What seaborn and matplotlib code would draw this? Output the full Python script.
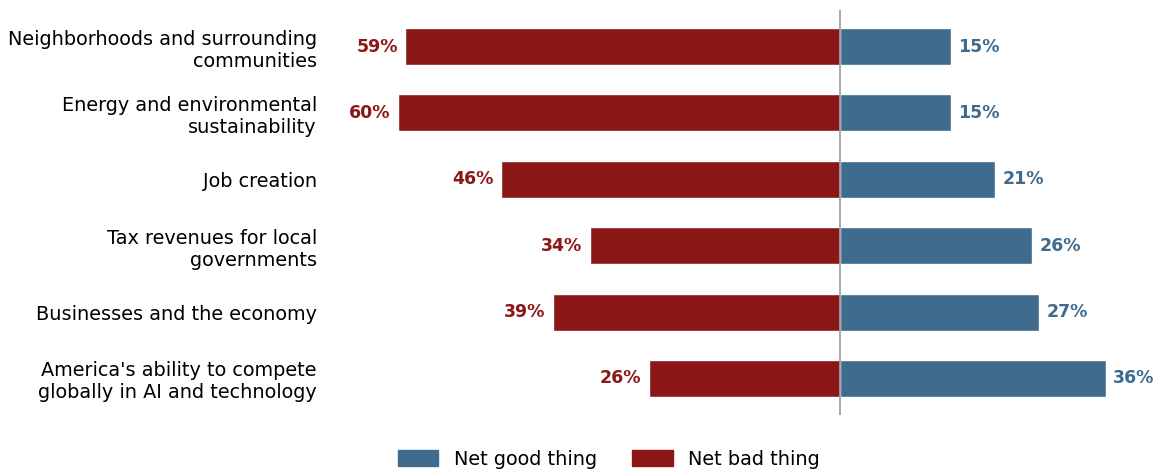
import matplotlib
matplotlib.use("Agg")
import matplotlib.pyplot as plt
import matplotlib.patches as mpatches
import pandas as pd
import seaborn as sns

categories = [
    "Neighborhoods and surrounding\ncommunities",
    "Energy and environmental\nsustainability",
    "Job creation",
    "Tax revenues for local\ngovernments",
    "Businesses and the economy",
    "America's ability to compete\nglobally in AI and technology",
]
net_good = [15, 15, 21, 26, 27, 36]
net_bad = [59, 60, 46, 34, 39, 26]

GOOD = "#3f6b8f"
BAD = "#8b1717"

sns.set_theme(style="white")
plt.rcParams["font.family"] = ["DejaVu Sans"]
plt.rcParams["text.color"] = "black"

df = pd.DataFrame({"category": categories, "good": net_good,
                   "bad": [-v for v in net_bad]})

fig = plt.figure(figsize=(11.62, 4.72), dpi=100)
ax = fig.add_axes([328 / 1162, 57 / 472, (1170 - 328) / 1162, 405 / 472])

sns.barplot(data=df, x="bad", y="category", color=BAD, width=0.56,
            saturation=1, ax=ax, orient="h")
sns.barplot(data=df, x="good", y="category", color=GOOD, width=0.56,
            saturation=1, ax=ax, orient="h")

ax.axvline(0, color="#999999", lw=1.2)
ax.set_xlim(-69.5, 44.7)
ax.set_ylim(5.55, -0.55)
ax.set_xlabel("")
ax.set_ylabel("")
ax.set_xticks([])
ax.tick_params(axis="y", length=0, pad=8, labelsize=13.9, labelcolor="black")
for lab in ax.get_yticklabels():
    lab.set_horizontalalignment("right")
sns.despine(ax=ax, left=True, bottom=True)

for i, (g, b) in enumerate(zip(net_good, net_bad)):
    ax.text(g + 1.0, i, f"{g}%", va="center", ha="left", color=GOOD,
            fontsize=12.5, fontweight="bold")
    ax.text(-b - 1.0, i, f"{b}%", va="center", ha="right", color=BAD,
            fontsize=12.5, fontweight="bold")

handles = [mpatches.Patch(color=GOOD, label="Net good thing"),
           mpatches.Patch(color=BAD, label="Net bad thing")]
fig.legend(handles=handles, loc="lower center", bbox_to_anchor=(0.524, -0.03),
           ncol=2, frameon=False, fontsize=13.9, handlelength=2.1,
           handleheight=0.9, columnspacing=1.85)

fig.savefig("out.png", dpi=100)
